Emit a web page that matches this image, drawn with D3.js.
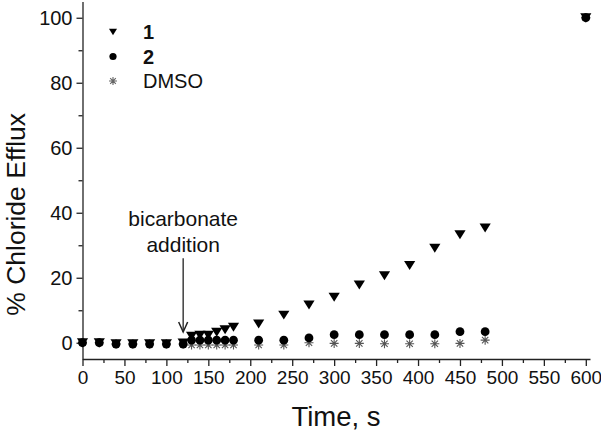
<!DOCTYPE html>
<html><head><meta charset="utf-8">
<script src="https://cdn.jsdelivr.net/npm/d3@7"></script>
<style>body{margin:0;background:#fff;} svg{display:block;font-family:Arial,"Liberation Sans",sans-serif;}</style>
</head><body><svg id="c" width="601" height="431"></svg>
<script>
const times   = [0,20,40,60,80,100,120,130,140,150,160,170,180,210,240,270,300,330,360,390,420,450,480,600];
const series1 = [0,0,-0.3,-0.3,-0.3,-0.3,-0.1,2.0,2.3,2.3,3.2,4.0,4.8,5.8,8.5,11.6,14.0,17.8,20.6,23.8,29.1,33.2,35.3,100];
const series2 = [0,0,-0.4,-0.4,-0.4,-0.4,-0.4,0.8,0.8,0.8,0.8,0.8,0.8,0.8,0.8,1.5,2.5,2.5,2.5,2.5,2.5,3.4,3.4,100];
const dmso    = [0,0,-0.4,-0.4,-0.4,-0.4,-0.4,-0.7,-0.7,-0.7,-0.7,-0.7,-0.7,-0.7,-0.7,0,-0.2,-0.2,-0.3,-0.3,-0.3,-0.2,0.8,100];
const xTicks = [0,50,100,150,200,250,300,350,400,450,500,550,600];
const yTicks = [0,20,40,60,80,100];
const legendLabels = ["1","2","DMSO"];
const annotationLines = ["bicarbonate","addition"];

const svg = d3.select("#c");
const x = d3.scaleLinear().domain([0,605]).range([82.5,590]);
const y = d3.scaleLinear().domain([-5,105]).range([359,1.5]);
const axisColor = "#222";

// minor ticks
const xMinor = d3.range(25,605,50);
const yMinor = d3.range(10,105,20);
svg.append("g").attr("transform",`translate(0,${y(-5)})`)
  .call(d3.axisBottom(x).tickValues(xMinor).tickSize(4).tickFormat(""))
  .call(g=>g.select(".domain").remove());
svg.append("g").attr("transform",`translate(${x(0)},0)`)
  .call(d3.axisLeft(y).tickValues(yMinor).tickSize(4).tickFormat(""))
  .call(g=>g.select(".domain").remove());

const gx = svg.append("g").attr("transform",`translate(0,${y(-5)})`)
  .call(d3.axisBottom(x).tickValues(xTicks).tickSize(7).tickSizeOuter(0).tickPadding(5));
gx.selectAll("text").attr("font-size",19).attr("font-family","Arial, 'Liberation Sans', sans-serif").attr("fill","#111");
const gy = svg.append("g").attr("transform",`translate(${x(0)},0)`)
  .call(d3.axisLeft(y).tickValues(yTicks).tickSize(6).tickSizeOuter(0).tickPadding(4));
gy.selectAll("text").attr("font-size",20).attr("font-family","Arial, 'Liberation Sans', sans-serif").attr("fill","#111");
svg.selectAll(".domain, .tick line").attr("stroke",axisColor).attr("stroke-width",1.3);

// axis titles
svg.append("text").attr("x",336).attr("y",426).attr("text-anchor","middle")
  .attr("font-size",27.5).attr("fill","#111").text("Time, s");
svg.append("text").attr("transform",`translate(25,${y(39.5)}) rotate(-90)`).attr("text-anchor","middle")
  .attr("font-size",26.5).attr("fill","#111").text("% Chloride Efflux");

const tri = (s)=>`M${-s},${-s*0.8}L${s},${-s*0.8}L0,${s*0.8}Z`;
const star = (r)=>{const a=r*0.7071;return `M0,${-r}L0,${r}M${-r},0L${r},0M${-a},${-a}L${a},${a}M${-a},${a}L${a},${-a}`;};

const pts = times.map((t,i)=>({t,a:series1[i],b:series2[i],c:dmso[i]}));
// DMSO stars
svg.append("g").selectAll("path").data(pts).join("path")
  .attr("transform",d=>`translate(${x(d.t)},${y(d.c)})`).attr("d",star(4.5))
  .attr("stroke","#555").attr("stroke-width",1.1).attr("fill","none");
// series 2 circles
svg.append("g").selectAll("circle").data(pts).join("circle")
  .attr("cx",d=>x(d.t)).attr("cy",d=>y(d.b)).attr("r",4.4).attr("fill","#000");
// series 1 triangles
svg.append("g").selectAll("path").data(pts).join("path")
  .attr("transform",d=>`translate(${x(d.t)},${y(d.a)})`).attr("d",tri(5.6)).attr("fill","#000");

// annotation
const ax = x(120);
svg.append("g").selectAll("text").data(annotationLines).join("text")
  .attr("x",ax).attr("y",(d,i)=>y(35.9-i*7.85)).attr("text-anchor","middle")
  .attr("font-size",21).attr("fill","#111").text(d=>d);
svg.append("line").attr("x1",ax).attr("x2",ax).attr("y1",y(26)).attr("y2",y(3.3))
  .attr("stroke","#222").attr("stroke-width",1.3);
svg.append("path").attr("d",`M${ax-4.5},${y(6.4)}L${ax},${y(3.3)}L${ax+4.5},${y(6.4)}`)
  .attr("stroke","#222").attr("stroke-width",1.5).attr("fill","none");

// legend
const lg = svg.append("g");
const lx = 113, ly = [32,56.5,81];
lg.append("path").attr("transform",`translate(${lx},${ly[0]})`).attr("d",tri(4)).attr("fill","#000");
lg.append("circle").attr("cx",lx).attr("cy",ly[1]).attr("r",3.6).attr("fill","#000");
lg.append("path").attr("transform",`translate(${lx},${ly[2]})`).attr("d",star(4)).attr("stroke","#666").attr("stroke-width",1.1).attr("fill","none");
lg.selectAll("text").data(legendLabels).join("text")
  .attr("x",143).attr("y",(d,i)=>ly[i]+7).attr("font-size",20)
  .attr("font-weight",(d,i)=>i<2?"bold":"normal").attr("fill","#111").text(d=>d);
</script></body></html>
